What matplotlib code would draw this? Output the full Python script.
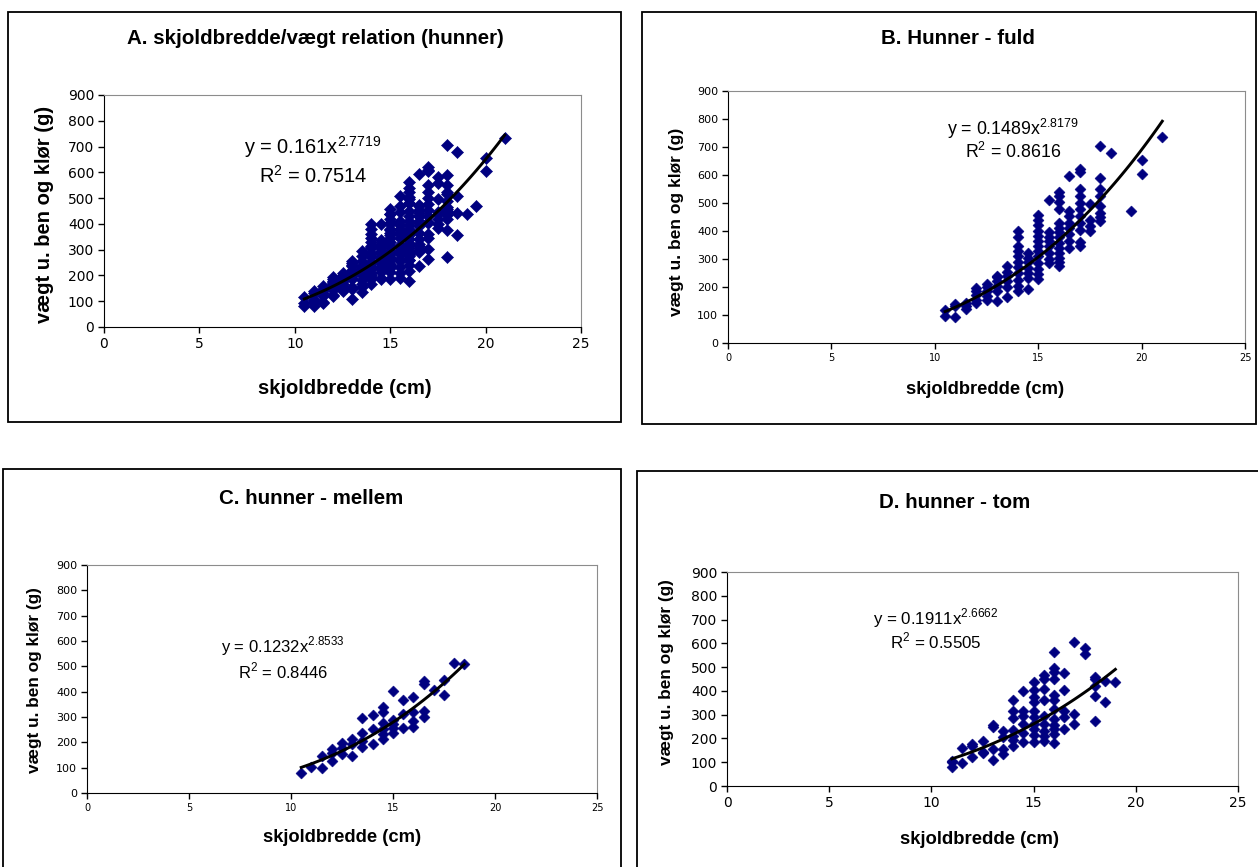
import numpy as np
import matplotlib.pyplot as plt
from matplotlib.patches import Rectangle

# ----------------------------------------------------------------------------
# Data: carapace width (cm) -> weights (g) read per 0.5 cm column
# ----------------------------------------------------------------------------
FULD = {  # B. Hunner - fuld
    10.5: [95, 118],
    11.0: [92, 132, 140],
    11.5: [122, 132, 142],
    12.0: [142, 155, 172, 185, 195],
    12.5: [155, 168, 185, 200, 210],
    13.0: [150, 185, 202, 220, 235, 240],
    13.5: [165, 200, 220, 238, 255, 275],
    14.0: [185, 202, 225, 250, 270, 288, 310, 330, 345, 380, 400],
    14.5: [192, 232, 250, 268, 288, 305, 322],
    15.0: [230, 245, 265, 285, 310, 328, 345, 365, 382, 400, 420, 438, 458],
    15.5: [285, 300, 320, 345, 365, 380, 395, 510],
    16.0: [275, 290, 305, 322, 340, 358, 378, 395, 412, 430, 480, 505, 525, 540],
    16.5: [340, 365, 390, 410, 430, 455, 470, 595],
    17.0: [345, 360, 405, 430, 455, 478, 500, 525, 550, 610, 622],
    17.5: [400, 418, 438, 498],
    18.0: [435, 450, 465, 490, 525, 550, 590, 705],
    18.5: [678],
    19.5: [470],
    20.0: [605, 655],
    21.0: [735],
}

MELLEM = {  # C. hunner - mellem
    10.5: [80],
    11.0: [103],
    11.5: [98, 146],
    12.0: [125, 158, 173],
    12.5: [152, 178, 197],
    13.0: [148, 192, 212],
    13.5: [182, 205, 235, 295],
    14.0: [192, 252, 307],
    14.5: [215, 232, 252, 275, 318, 338],
    15.0: [238, 258, 272, 290, 402],
    15.5: [255, 312, 368],
    16.0: [260, 285, 318, 378],
    16.5: [300, 322, 432, 442],
    17.0: [408],
    17.5: [385, 445],
    18.0: [515],
    18.5: [510],
}

TOM = {  # D. hunner - tom
    11.0: [82, 100, 106],
    11.5: [95, 159],
    12.0: [120, 168, 177],
    12.5: [138, 145, 188],
    13.0: [110, 155, 250, 256],
    13.5: [136, 155, 205, 230],
    14.0: [168, 195, 210, 235, 285, 315, 360],
    14.5: [185, 225, 260, 295, 315, 398],
    15.0: [185, 215, 240, 262, 290, 315, 355, 375, 405, 438],
    15.5: [190, 210, 232, 262, 295, 360, 410, 448, 468],
    16.0: [180, 218, 240, 258, 280, 325, 360, 382, 450, 480, 498, 563],
    16.5: [238, 290, 315, 402, 475],
    17.0: [262, 302, 605],
    17.5: [557, 582],
    18.0: [272, 378, 420, 448, 458],
    18.5: [355, 442],
    19.0: [438],
}

# Power trendlines as printed on the chart: (a, b, R^2)
FIT_ALL    = (0.161,  2.7719, 0.7514)
FIT_FULD   = (0.1489, 2.8179, 0.8616)
FIT_MELLEM = (0.1232, 2.8533, 0.8446)
FIT_TOM    = (0.1911, 2.6662, 0.5505)

TITLES = ["A. skjoldbredde/vægt relation (hunner)", "B. Hunner - fuld",
          "C. hunner - mellem", "D. hunner - tom"]
XLABEL = "skjoldbredde (cm)"
YLABEL = "vægt u. ben og klør (g)"

plt.rcParams["font.family"] = ["Liberation Sans", "DejaVu Sans"]
plt.rcParams["mathtext.fontset"] = "custom"
plt.rcParams["mathtext.rm"] = "Liberation Sans"

W, H = 1258, 867
NAVY = "#000080"
TICK_FONT = "DejaVu Sans"


def expand(cols):
    xs, ys = [], []
    for x, vals in cols.items():
        xs += [x] * len(vals)
        ys += vals
    return np.array(xs), np.array(ys)


def px_box(l, t, r, b):
    """pixel box -> figure fraction [left, bottom, width, height]"""
    return [l / W, 1 - b / H, (r - l) / W, (b - t) / H]


def fxy(x, y):
    return x / W, 1 - y / H


def panel(fig, frame, plot, cols, fit, title, sizes, pos):
    xt_fs, yt_fs, xl_fs, yl_fs, eq_fs, msize = sizes
    fl, ft, fr, fb = frame
    fig.patches.append(Rectangle(fxy(fl, fb), (fr - fl) / W, (fb - ft) / H,
                                 transform=fig.transFigure, fill=False,
                                 edgecolor="black", linewidth=1.3))
    ax = fig.add_axes(px_box(*plot))
    x, y = expand(cols)
    ax.scatter(x, y, marker="D", s=msize, color=NAVY, edgecolors=NAVY,
               linewidths=0.4, zorder=2)

    a, b, r2 = fit
    xf = np.linspace(x.min(), x.max(), 60)
    ax.plot(xf, a * xf ** b, color="black", linewidth=2.1, zorder=3)

    ax.set_xlim(0, 25)
    ax.set_ylim(0, 900)
    ax.set_xticks(range(0, 26, 5))
    ax.set_yticks(range(0, 901, 100))
    ax.tick_params(direction="out", length=4, width=1, pad=3)
    for lab in ax.get_xticklabels():
        lab.set_fontfamily(TICK_FONT)
        lab.set_fontsize(xt_fs)
    for lab in ax.get_yticklabels():
        lab.set_fontfamily(TICK_FONT)
        lab.set_fontsize(yt_fs)
    for s in ["left", "bottom"]:
        ax.spines[s].set_color("black")
    for s in ["top", "right"]:
        ax.spines[s].set_color("#8c8c8c")

    (tx, ty), (xlx, xly), (ylx, yly), (ex, ey1, ey2) = pos
    fig.text(*fxy(tx, ty), title, ha="center", va="center",
             fontsize=14.8, fontweight="bold")
    fig.text(*fxy(xlx, xly), XLABEL, ha="center", va="center",
             fontsize=xl_fs, fontweight="bold")
    fig.text(*fxy(ylx, yly), YLABEL, ha="center", va="center",
             fontsize=yl_fs, fontweight="bold", rotation=90)
    eq = f"y = {a}x" + r"$^{\mathregular{" + f"{b}" + "}}$"
    fig.text(*fxy(ex, ey1), eq, ha="center", va="baseline", fontsize=eq_fs)
    fig.text(*fxy(ex, ey2), r"R$^{\mathregular{2}}$" + f" = {r2}",
             ha="center", va="baseline", fontsize=eq_fs)
    return ax


fig = plt.figure(figsize=(W / 100, H / 100), dpi=100)

# panel A shows all females together (full + medium + empty)
all_cols = {}
for d in (FULD, MELLEM, TOM):
    for k, v in d.items():
        all_cols.setdefault(k, []).extend(v)

panel(fig, (8, 12, 621, 422), (104, 95, 581, 327), all_cols, FIT_ALL, TITLES[0],
      (10, 10, 14.5, 14.5, 14.4, 38),
      ((315, 38), (345, 388), (45, 214), (313, 154, 183)))
panel(fig, (642, 12, 1256, 424), (728, 91, 1245, 343), FULD, FIT_FULD, TITLES[1],
      (7, 8, 13.2, 12.5, 12.8, 31),
      ((958, 39), (985, 390), (677, 222), (1013, 135, 158)))
panel(fig, (3, 469, 621, 880), (87, 565, 597, 793), MELLEM, FIT_MELLEM, TITLES[2],
      (7, 8, 13.2, 12.4, 12, 31),
      ((311, 499), (342, 838), (35, 680), (283, 652, 678)))
panel(fig, (637, 471, 1270, 880), (727, 572, 1238, 786), TOM, FIT_TOM, TITLES[3],
      (10, 10, 13.3, 12.4, 12.2, 31),
      ((955, 503), (980, 840), (666, 672), (936, 624, 648)))

fig.savefig("out.png", dpi=100)
